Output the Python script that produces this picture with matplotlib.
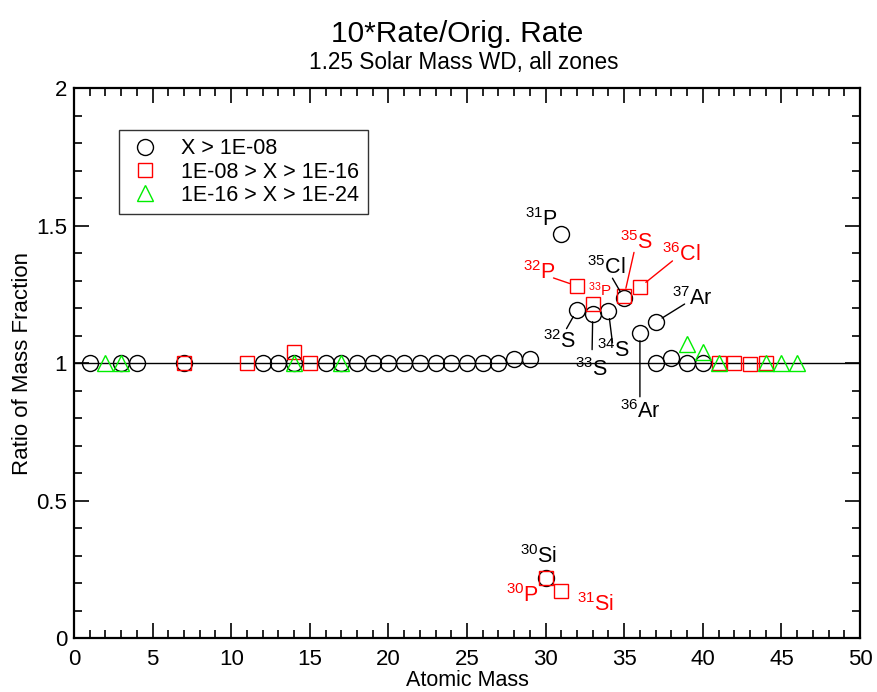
import matplotlib
matplotlib.use('Agg')
import matplotlib.pyplot as plt
from matplotlib.ticker import MultipleLocator

plt.rcParams['font.family'] = ['Liberation Sans', 'DejaVu Sans']
plt.rcParams['mathtext.fontset'] = 'custom'
plt.rcParams['mathtext.rm'] = 'Liberation Sans'
plt.rcParams['mathtext.it'] = 'Liberation Sans'

# X > 1E-08
mass_hi = [1, 3, 4, 7, 12, 13, 14, 16, 17, 18, 19, 20, 21, 22, 23, 24, 25, 26, 27,
           28, 29, 30, 31, 32, 33, 34, 35, 36, 37, 37, 38, 39, 40]
ratio_hi = [1.0, 1.0, 1.0, 1.0, 1.0, 1.0, 1.0, 1.0, 1.0, 1.0, 1.0, 1.0, 1.0, 1.0, 1.0, 1.0, 1.0, 1.0, 1.0,
            1.015, 1.015, 0.218, 1.469, 1.193, 1.178, 1.189, 1.235, 1.109, 1.149, 1.0, 1.02, 1.0, 1.0]

# 1E-08 > X > 1E-16
mass_mid = [7, 11, 14, 15, 30, 31, 32, 33, 35, 36, 41, 42, 43, 44]
ratio_mid = [1.0, 1.0, 1.04, 1.0, 0.22, 0.172, 1.28, 1.215, 1.245, 1.276, 1.0, 1.0, 0.997, 1.0]

# 1E-16 > X > 1E-24
mass_lo = [2, 3, 14, 17, 39, 40, 41, 44, 45, 46]
ratio_lo = [1.0, 1.0, 1.0, 1.0, 1.07, 1.04, 1.0, 1.0, 1.0, 1.0]

# isotope labels: (A, element, series, colour, offset px (dx, dy), leader line, size, gap at text end (pt))
labels = [
    (31, 'P', 'hi', 'black', (-20, 14), False, 15.5, 0),
    (32, 'P', 'mid', 'red', (-38, 13), True, 15.5, 11),
    (33, 'P', 'mid', 'red', (7, 14), False, 11, 0),
    (35, 'Cl', 'hi', 'black', (-18, 31), True, 15.5, 9),
    (35, 'S', 'mid', 'red', (12, 53), True, 15.5, 7.2),
    (36, 'Cl', 'mid', 'red', (41, 33), True, 15.5, 7.8),
    (37, 'Ar', 'hi', 'black', (37, 23), True, 15.5, 6.8),
    (32, 'S', 'hi', 'black', (-18, -32), True, 15.5, 11),
    (33, 'S', 'hi', 'black', (-1, -55), True, 15.5, 14),
    (34, 'S', 'hi', 'black', (5, -40), True, 15.5, 6),
    (36, 'Ar', 'hi', 'black', (0, -79), True, 15.5, 11),
    (30, 'Si', 'hi', 'black', (-7, 22), False, 15.5, 0),
    (30, 'P', 'mid', 'red', (-23, -18), False, 15.5, 0),
    (31, 'Si', 'mid', 'red', (34, -14), False, 15.5, 0),
]

fig = plt.figure(figsize=(8.77, 6.92), dpi=100)
ax = fig.add_axes([0.0844, 0.078, 0.8962, 0.7948])

ax.axhline(1.0, color='black', lw=1.0, zorder=1)

ax.plot(mass_hi, ratio_hi, 'o', ms=11.5, mfc='none', mec='black', mew=1.0,
        label='X > 1E-08', zorder=2)
ax.plot(mass_mid, ratio_mid, 's', ms=10, mfc='none', mec='red', mew=1.0,
        label='1E-08 > X > 1E-16', zorder=3)
ax.plot(mass_lo, ratio_lo, '^', ms=11, mfc='none', mec='#00ee00', mew=1.0,
        label='1E-16 > X > 1E-24', zorder=4)

series = {'hi': (mass_hi, ratio_hi), 'mid': (mass_mid, ratio_mid)}
for a, el, s, col, (dx, dy), line, fs, gap in labels:
    xs, ys = series[s]
    idx = [i for i, m in enumerate(xs) if m == a][0]
    pt = (xs[idx], ys[idx])
    ap = None
    if line:
        ap = dict(arrowstyle='-', color=col, lw=1.0, patchA=None, shrinkA=gap, shrinkB=5.5)
    ax.annotate(r'$^{%d}$%s' % (a, el), xy=pt, xytext=(dx * 0.72, dy * 0.72),
                textcoords='offset points', ha='center', va='center',
                color=col, fontsize=fs, arrowprops=ap, zorder=5)

ax.set_xlim(0, 50)
ax.set_ylim(0, 2)
ax.xaxis.set_major_locator(MultipleLocator(5))
ax.xaxis.set_minor_locator(MultipleLocator(1))
ax.yaxis.set_minor_locator(MultipleLocator(0.1))
ax.set_yticks([0, 0.5, 1, 1.5, 2])
ax.set_yticklabels(['0', '0.5', '1', '1.5', '2'])
ax.tick_params(which='both', direction='in', top=True, right=True, labelsize=16, width=1.2)
ax.tick_params(which='major', length=11, pad=5)
ax.tick_params(axis='x', which='major', pad=8)
ax.tick_params(which='minor', length=6)
for sp in ax.spines.values():
    sp.set_linewidth(1.6)

ax.set_xlabel('Atomic Mass', fontsize=15.5, labelpad=0)
ax.set_ylabel('Ratio of Mass Fraction', fontsize=16, labelpad=2)

fig.text(0.521, 0.951, '10*Rate/Orig. Rate', ha='center', va='center', fontsize=21.5)
fig.text(0.529, 0.909, '1.25 Solar Mass WD, all zones', ha='center', va='center', fontsize=16.3)

leg = ax.legend(loc='upper left', bbox_to_anchor=(0.057, 0.924), fontsize=15.5,
                frameon=True, fancybox=False, edgecolor='black', handletextpad=0.9,
                borderpad=0.4, labelspacing=0.1, handlelength=1.6, borderaxespad=0)
leg.get_frame().set_linewidth(1.0)

fig.savefig('out.png', dpi=100)
